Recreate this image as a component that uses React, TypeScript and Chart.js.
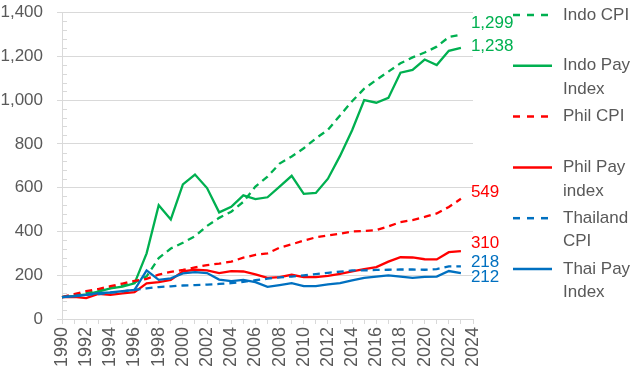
import React, { useEffect, useRef } from "react";
import { Chart, registerables } from "chart.js";

Chart.register(...registerables);

const years = [
  "1990", "1991", "1992", "1993", "1994", "1995", "1996", "1997", "1998", "1999",
  "2000", "2001", "2002", "2003", "2004", "2005", "2006", "2007", "2008", "2009",
  "2010", "2011", "2012", "2013", "2014", "2015", "2016", "2017", "2018", "2019",
  "2020", "2021", "2022", "2023", "2024",
];

const indoCPI = [100, 109, 118, 130, 141, 153, 166, 195, 278, 322, 348, 378, 425, 462, 490, 535, 605, 650, 710, 742, 780, 825, 864, 930, 995, 1052, 1092, 1130, 1168, 1195, 1217, 1244, 1288, 1299];
const indoPay = [100, 105, 112, 125, 140, 148, 163, 300, 520, 455, 615, 660, 598, 487, 512, 565, 548, 556, 605, 654, 572, 576, 641, 745, 862, 1000, 988, 1010, 1125, 1138, 1185, 1160, 1225, 1238];
const philCPI = [100, 114, 127, 137, 150, 162, 174, 183, 203, 215, 224, 236, 246, 253, 262, 280, 293, 300, 326, 341, 358, 373, 382, 390, 400, 402, 406, 423, 443, 452, 466, 482, 512, 549];
const philPay = [100, 101, 95, 115, 110, 117, 123, 163, 168, 178, 218, 225, 222, 210, 219, 217, 204, 188, 191, 202, 191, 191, 197, 206, 217, 228, 237, 262, 282, 281, 273, 272, 305, 310];
const thaiCPI = [100, 106, 110, 114, 120, 126, 133, 140, 146, 149, 153, 155, 157, 160, 164, 170, 177, 184, 190, 194, 199, 205, 211, 216, 222, 222, 224, 225, 226, 226, 225, 228, 240, 240];
const thaiPay = [100, 104, 110, 118, 121, 127, 133, 222, 179, 186, 208, 214, 210, 180, 173, 179, 168, 147, 155, 164, 150, 150, 158, 164, 176, 188, 194, 199, 194, 188, 192, 194, 219, 210];

const seriesNames = ["Indo CPI", "Indo Pay Index", "Phil CPI", "Phil Pay index", "Thailand CPI", "Thai Pay Index"];
const legendLabels = [["Indo CPI"], ["Indo Pay", "Index"], ["Phil CPI"], ["Phil Pay", "index"], ["Thailand", "CPI"], ["Thai Pay", "Index"]];
const endLabels = ["1,299", "1,238", "549", "310", "218", "212"];

// styles
const GREEN = "#00B050";
const RED = "#FF0000";
const BLUE = "#0070C0";
const colors = [GREEN, GREEN, RED, RED, BLUE, BLUE];
const dashed = [true, false, true, false, true, false];
const labelDy = [-11, -2, -6, -8, -4, 4];
const FONT = "'Liberation Sans', Arial, sans-serif";
const TEXT = "#595959";
const GRID = "#D9D9D9";

const overlay = {
  id: "overlay",
  beforeDatasetsDraw(chart: any) {
    const { ctx, chartArea } = chart;
    const ys = chart.scales.y;
    ctx.save();
    ctx.strokeStyle = GRID;
    ctx.lineWidth = 1;
    for (let v = 40; v < 1400; v += 40) {
      if (v % 200 === 0) continue;
      const y = Math.round(ys.getPixelForValue(v)) + 0.5;
      ctx.beginPath();
      ctx.moveTo(chartArea.left, y);
      ctx.lineTo(chartArea.left + 5, y);
      ctx.stroke();
    }
    ctx.restore();
  },
  afterDraw(chart: any) {
    const { ctx, chartArea } = chart;
    ctx.save();
    ctx.textBaseline = "middle";
    ctx.textAlign = "left";
    ctx.font = `17px ${FONT}`;
    // end labels
    for (let i = 0; i < endLabels.length; i++) {
      const meta = chart.getDatasetMeta(i);
      const pt = meta.data[meta.data.length - 1];
      ctx.fillStyle = colors[i];
      ctx.fillText(endLabels[i], pt.x + 10, pt.y + labelDy[i]);
    }
    // legend
    const x0 = chartArea.right + 40;
    for (let i = 0; i < legendLabels.length; i++) {
      const y = chartArea.top + 2.5 + i * 50.8;
      ctx.strokeStyle = colors[i];
      ctx.lineWidth = 2.5;
      ctx.setLineDash(dashed[i] ? [7, 7] : []);
      ctx.beginPath();
      ctx.moveTo(x0, y);
      ctx.lineTo(x0 + 39, y);
      ctx.stroke();
      ctx.setLineDash([]);
      ctx.fillStyle = TEXT;
      legendLabels[i].forEach((t, j) => ctx.fillText(t, x0 + 50, y + j * 23.5));
    }
    ctx.restore();
  },
};

export default function App() {
  const ref = useRef<HTMLCanvasElement>(null);
  useEffect(() => {
    const values = [indoCPI, indoPay, philCPI, philPay, thaiCPI, thaiPay];
    const chart = new Chart(ref.current as HTMLCanvasElement, {
      type: "line",
      data: {
        labels: years,
        datasets: values.map((d, i) => ({
          label: seriesNames[i],
          data: d,
          borderColor: colors[i],
          backgroundColor: colors[i],
          borderWidth: 2.3,
          borderDash: dashed[i] ? [7, 5] : [],
          pointRadius: 0,
          tension: 0,
          fill: false,
          order: 6 - i,
        })),
      },
      options: {
        animation: false,
        responsive: true,
        maintainAspectRatio: false,
        layout: { padding: { top: 12.5, right: 160, left: 0, bottom: 0 } },
        plugins: { legend: { display: false }, tooltip: { enabled: false } },
        scales: {
          x: {
            type: "category",
            offset: false,
            afterFit: (s: any) => { s.height = 56; s.paddingLeft = 0; s.paddingRight = 0; },
            grid: { drawOnChartArea: false, drawTicks: true, tickLength: 5, color: GRID },
            border: { color: GRID },
            ticks: {
              autoSkip: false,
              minRotation: 90,
              maxRotation: 90,
              padding: 3,
              color: TEXT,
              font: { family: FONT, size: 18 },
              callback: (_v: any, idx: number) => (idx % 2 === 0 ? years[idx] : ""),
            },
          },
          y: {
            min: 0,
            max: 1400,
            afterFit: (s: any) => { s.width = 62; s.paddingTop = 0; s.paddingBottom = 0; },
            grid: { color: GRID, tickLength: 5 },
            border: { color: GRID },
            ticks: {
              stepSize: 200,
              padding: 14,
              color: TEXT,
              font: { family: FONT, size: 17 },
              callback: (v: any) => Number(v).toLocaleString("en-US"),
            },
          },
        },
      },
      plugins: [overlay],
    });
    return () => chart.destroy();
  }, []);
  return (
    <div style={{ position: "fixed", left: 0, top: 0, width: 633, height: 375, background: "#fff" }}>
      <canvas ref={ref} />
    </div>
  );
}
